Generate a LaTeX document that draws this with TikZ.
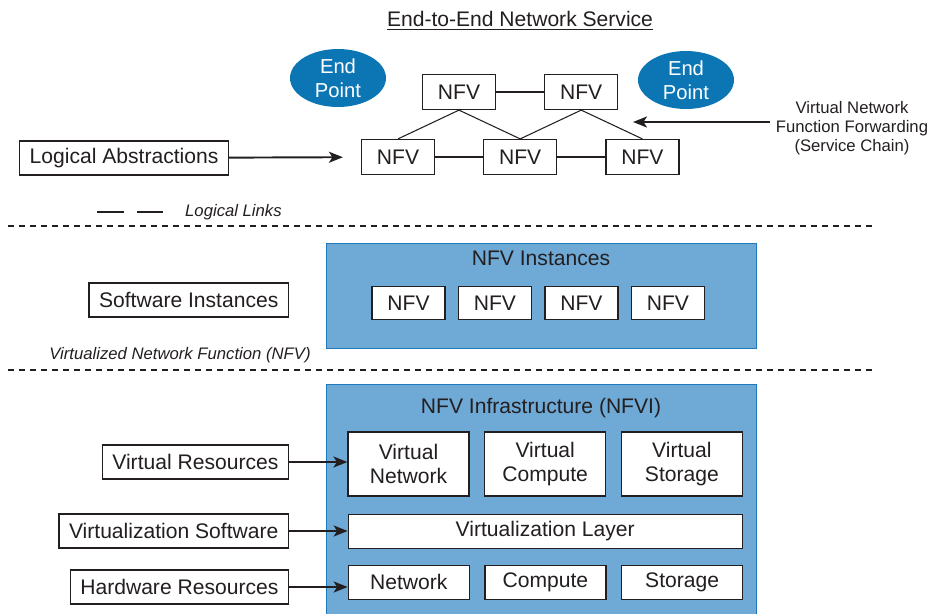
\documentclass[tikz,border=0pt]{standalone}
\usepackage{fontspec}
\setmainfont{Liberation Sans}
\usetikzlibrary{positioning, arrows.meta, shapes.geometric}

\definecolor{epblue}{RGB}{12,118,180}
\definecolor{layerfill}{RGB}{111,169,213}
\definecolor{layerdraw}{RGB}{30,120,188}
\definecolor{inkgray}{RGB}{35,31,32}

\newcommand{\nfvfont}{\fontsize{12}{14}\selectfont}
\newcommand{\notefont}{\fontsize{9.5}{11}\selectfont}

\tikzset{
  % plain white boxes
  nfvbox/.style={
    draw=inkgray, fill=white, rectangle, line width=0.7pt,
    minimum width=1.46cm, minimum height=0.7cm, inner sep=0pt,
    font=\nfvfont, text=inkgray
  },
  sidebox/.style={
    draw=inkgray, fill=white, rectangle, line width=0.7pt,
    inner xsep=0.2cm, minimum height=0.68cm, font=\nfvfont, text=inkgray
  },
  resbox/.style={
    draw=inkgray, fill=white, rectangle, line width=0.7pt, align=center,
    minimum width=2.42cm, minimum height=0.68cm, inner sep=0pt,
    font=\nfvfont, text=inkgray
  },
  tallbox/.style={minimum height=1.28cm},
  % blue end points and layers
  endpoint/.style={
    ellipse, fill=epblue, text=white, align=center,
    minimum width=1.92cm, minimum height=1.16cm, inner sep=0pt,
    font=\fontsize{11.5}{13.5}\selectfont
  },
  layerbox/.style={
    draw=layerdraw, fill=layerfill, rectangle, line width=0.8pt,
    minimum width=8.6cm, inner sep=0pt
  },
  layertitle/.style={font=\nfvfont, text=inkgray},
  note/.style={font=\notefont\itshape, text=inkgray},
  % connectors
  link/.style={draw=inkgray, line width=0.6pt},
  feed/.style={
    draw=inkgray, line width=1.1pt,
    -{Stealth[length=0.28cm, width=0.22cm, inset=0.07cm]}
  },
  legenddash/.style={draw=inkgray, line width=1.4pt, dash pattern=on 0.54cm off 0.26cm},
  sepline/.style={draw=inkgray, line width=0.6pt, dash pattern=on 0.12cm off 0.1cm},
}

\begin{document}
\begin{tikzpicture}[x=0.02cm, y=-0.02cm]
  \useasboundingbox (0,0) rectangle (929,613);

  %% -- Title --
  \node[layertitle] (title) at (520,21) {\underline{End-to-End Network Service}};

  %% -- End points --
  \node[endpoint] (epL) at (338,78) {End\\Point};
  \node[endpoint] (epR) at (686,80) {End\\Point};

  %% -- Service chain --
  \node[nfvbox] (nfvA) at (459,92) {NFV};
  \node[nfvbox, right=0.96cm of nfvA] (nfvB) {NFV};
  \node[nfvbox] (nfvC) at (398,157) {NFV};
  \node[nfvbox, right=0.96cm of nfvC] (nfvD) {NFV};
  \node[nfvbox, right=0.96cm of nfvD] (nfvE) {NFV};

  \draw[link] (nfvA) -- (nfvB);
  \draw[link] (nfvC) -- (nfvD);
  \draw[link] (nfvD) -- (nfvE);
  \draw[link] (nfvA.south) -- (nfvC.north);
  \draw[link] (nfvA.south) -- (nfvD.north);
  \draw[link] (nfvB.south) -- (nfvD.north);
  \draw[link] (nfvB.south) -- (nfvE.north);

  %% -- Abstractions and forwarding --
  \node[sidebox, anchor=east] (logic) at (229,158) {Logical Abstractions};
  \draw[feed, shorten >=0.36cm] (logic) -- (nfvC);

  \node[align=center, font=\notefont, text=inkgray] (vnff) at (852,128)
       {Virtual Network\\Function Forwarding\\(Service Chain)};
  \coordinate (chainEnd) at (633,122);
  \draw[feed] (vnff.west |- chainEnd) -- (chainEnd);

  %% -- Legend --
  \node[note, anchor=west] (linkslabel) at (179,212) {Logical Links};
  \coordinate (legendStart) at (97,212);
  \draw[legenddash] (legendStart) -- ([xshift=-0.32cm]linkslabel.west);

  %% -- Separators --
  \coordinate (sepA1) at (8,226);   \coordinate (sepA2) at (875,226);
  \coordinate (sepB1) at (8,370);   \coordinate (sepB2) at (875,370);
  \draw[sepline] (sepA1) -- (sepA2);
  \draw[sepline] (sepB1) -- (sepB2);

  %% -- NFV instances --
  \node[layerbox, anchor=north west, minimum height=2.1cm] (vnflayer) at (326,243) {};
  \node[layertitle] (vnftitle) at (541,258) {NFV Instances};
  \node[nfvbox, minimum height=0.66cm] (inst1) at (408.5,303) {NFV};
  \node[nfvbox, minimum height=0.66cm, right=0.245cm of inst1] (inst2) {NFV};
  \node[nfvbox, minimum height=0.66cm, right=0.245cm of inst2] (inst3) {NFV};
  \node[nfvbox, minimum height=0.66cm, right=0.245cm of inst3] (inst4) {NFV};

  \node[sidebox, anchor=east] (swinst) at (289,300) {Software Instances};
  \node[note] (vnfnote) at (180,355) {Virtualized Network Function (NFV)};

  %% -- NFV infrastructure --
  \node[layerbox, anchor=north west, minimum height=4.8cm] (nfvilayer) at (326,384) {};
  \node[layertitle] (nfvititle) at (541,408) {NFV Infrastructure (NFVI)};

  \node[resbox, tallbox] (vnet) at (408.5,464) {Virtual\\Network};
  \node[resbox, tallbox, right=0.29cm of vnet] (vcomp) {Virtual\\Compute};
  \node[resbox, tallbox, right=0.29cm of vcomp] (vstor) {Virtual\\Storage};
  \node[resbox, minimum width=7.88cm, below=0.34cm of vcomp] (vlayer) {Virtualization Layer};
  \node[resbox, anchor=north west] (hwnet) at ([yshift=-0.32cm]vlayer.south west) {Network};
  \node[resbox, right=0.29cm of hwnet] (hwcomp) {Compute};
  \node[resbox, right=0.29cm of hwcomp] (hwstor) {Storage};

  \node[sidebox, anchor=east] (vres) at (289,462) {Virtual Resources};
  \node[sidebox, anchor=east] (vsoft) at (289,531) {Virtualization Software};
  \node[sidebox, anchor=east] (hwres) at (289,587) {Hardware Resources};

  \draw[feed] (vres) -- (vres -| vnet.west);
  \draw[feed] (vsoft) -- (vsoft -| vlayer.west);
  \draw[feed] (hwres) -- (hwres -| hwnet.west);

\end{tikzpicture}
\end{document}
